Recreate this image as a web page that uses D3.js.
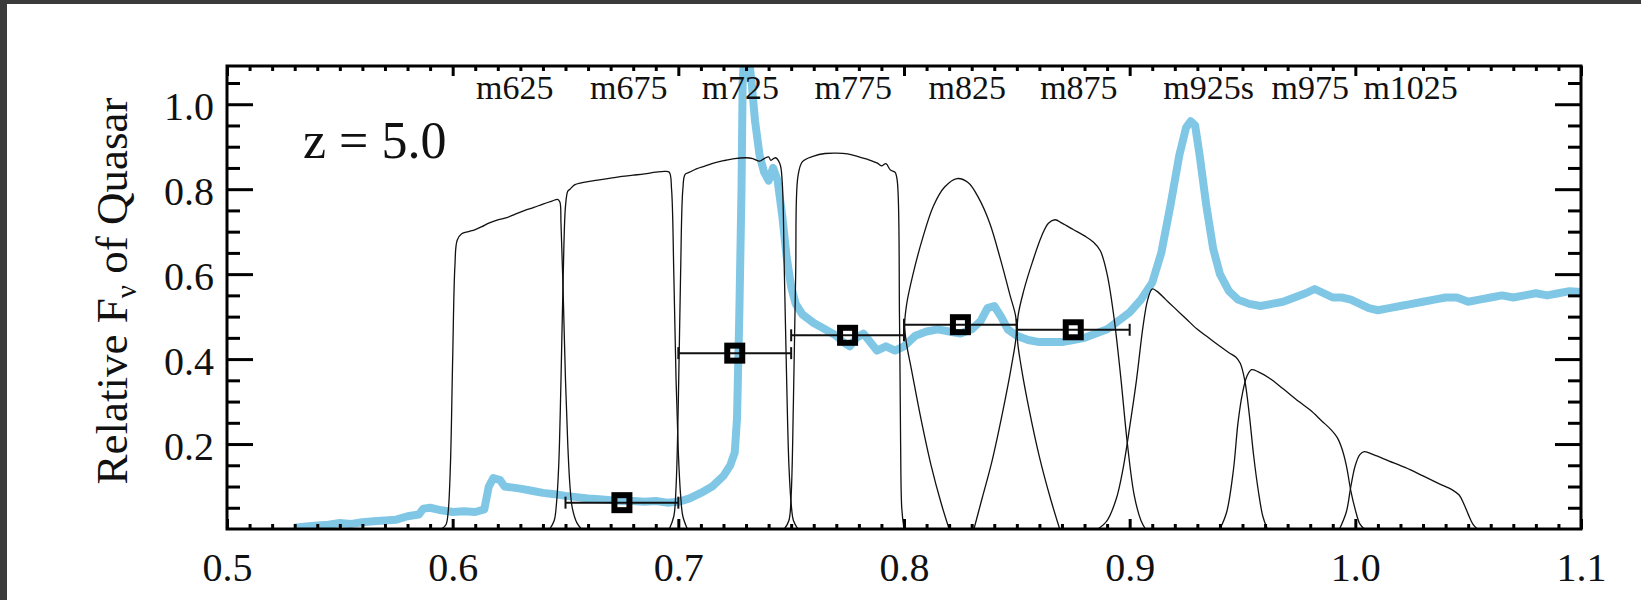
<!DOCTYPE html>
<html>
<head>
<meta charset="utf-8">
<script src="https://cdn.jsdelivr.net/npm/d3@7"></script>
<style>
  html, body { margin: 0; padding: 0; background: #3b3b3b; }
  svg { display: block; }
  text { font-family: "Liberation Serif", "Times New Roman", serif; fill: #111; }
</style>
</head>
<body>
<svg id="chart" width="1641" height="600"></svg>
<script>
// Quasar spectrum (observed wavelength in microns, relative F_nu)
const specWave = [0.530,0.535,0.540,0.545,0.550,0.555,0.560,0.565,0.570,0.575,0.580,0.585,0.587,0.590,0.595,0.600,0.605,0.610,0.614,0.616,0.618,0.621,0.623,0.626,0.630,0.635,0.640,0.645,0.650,0.655,0.660,0.665,0.670,0.675,0.680,0.685,0.690,0.695,0.700,0.705,0.710,0.715,0.720,0.723,0.725,0.726,0.727,0.728,0.7285,0.729,0.731,0.7325,0.734,0.736,0.738,0.740,0.742,0.744,0.746,0.748,0.750,0.752,0.755,0.760,0.765,0.770,0.773,0.776,0.779,0.782,0.785,0.788,0.792,0.796,0.800,0.805,0.810,0.815,0.820,0.825,0.830,0.834,0.837,0.840,0.843,0.846,0.850,0.855,0.860,0.865,0.870,0.875,0.880,0.885,0.890,0.895,0.900,0.905,0.910,0.914,0.918,0.922,0.925,0.927,0.929,0.931,0.934,0.937,0.940,0.944,0.948,0.953,0.958,0.963,0.968,0.973,0.978,0.982,0.986,0.990,0.994,0.998,1.002,1.006,1.010,1.015,1.020,1.025,1.030,1.035,1.040,1.045,1.050,1.055,1.060,1.065,1.070,1.075,1.080,1.085,1.090,1.095,1.100];
const specFlux = [0.003,0.006,0.008,0.010,0.014,0.012,0.016,0.018,0.020,0.022,0.030,0.034,0.048,0.050,0.044,0.040,0.042,0.040,0.046,0.100,0.120,0.115,0.100,0.098,0.095,0.090,0.085,0.082,0.078,0.075,0.072,0.070,0.068,0.066,0.066,0.064,0.066,0.062,0.064,0.072,0.085,0.100,0.125,0.150,0.180,0.260,0.500,0.800,1.050,1.100,1.120,1.050,0.960,0.880,0.840,0.820,0.850,0.820,0.740,0.640,0.570,0.530,0.505,0.485,0.470,0.455,0.440,0.430,0.450,0.460,0.440,0.420,0.430,0.420,0.430,0.455,0.465,0.470,0.465,0.460,0.470,0.490,0.520,0.525,0.500,0.470,0.455,0.445,0.440,0.440,0.440,0.445,0.450,0.460,0.470,0.490,0.510,0.540,0.580,0.650,0.760,0.880,0.945,0.960,0.950,0.880,0.760,0.660,0.600,0.560,0.540,0.530,0.525,0.530,0.535,0.545,0.555,0.565,0.555,0.545,0.545,0.540,0.530,0.520,0.515,0.520,0.525,0.530,0.535,0.540,0.545,0.545,0.535,0.540,0.545,0.550,0.545,0.550,0.555,0.550,0.555,0.560,0.558];

// Filter transmission curves: [wavelength, transmission], listed in drawing order
const m625 = [[0.595,0],[0.597,0.01],[0.598,0.04],[0.599,0.15],[0.600,0.40],[0.601,0.62],[0.602,0.68],[0.604,0.695],[0.607,0.70],[0.610,0.705],[0.613,0.712],[0.616,0.72],[0.620,0.728],[0.624,0.733],[0.628,0.742],[0.632,0.75],[0.636,0.757],[0.640,0.765],[0.644,0.772],[0.6465,0.776],[0.6475,0.77],[0.648,0.72],[0.649,0.55],[0.650,0.35],[0.651,0.2],[0.652,0.1],[0.653,0.05],[0.655,0.015],[0.657,0]];
const m675 = [[0.643,0],[0.645,0.02],[0.646,0.06],[0.647,0.15],[0.648,0.35],[0.649,0.6],[0.650,0.76],[0.651,0.795],[0.652,0.80],[0.654,0.81],[0.657,0.815],[0.660,0.818],[0.665,0.822],[0.670,0.826],[0.675,0.83],[0.680,0.833],[0.685,0.836],[0.690,0.84],[0.694,0.842],[0.696,0.84],[0.697,0.80],[0.698,0.6],[0.699,0.35],[0.700,0.18],[0.701,0.08],[0.702,0.03],[0.704,0]];
const m725 = [[0.696,0],[0.698,0.03],[0.699,0.1],[0.700,0.3],[0.701,0.6],[0.702,0.8],[0.703,0.835],[0.705,0.84],[0.708,0.848],[0.712,0.855],[0.716,0.862],[0.720,0.867],[0.725,0.872],[0.730,0.874],[0.733,0.872],[0.736,0.866],[0.738,0.872],[0.740,0.876],[0.741,0.868],[0.743,0.874],[0.745,0.86],[0.746,0.82],[0.747,0.6],[0.748,0.35],[0.749,0.15],[0.750,0.06],[0.751,0.02],[0.753,0]];
const m775 = [[0.747,0],[0.749,0.02],[0.750,0.08],[0.751,0.3],[0.752,0.6],[0.753,0.83],[0.755,0.865],[0.760,0.878],[0.765,0.884],[0.770,0.885],[0.775,0.883],[0.780,0.876],[0.784,0.87],[0.788,0.862],[0.790,0.855],[0.792,0.86],[0.794,0.845],[0.796,0.84],[0.797,0.82],[0.798,0.5],[0.7985,0.2],[0.799,0.05],[0.800,0]];
const m825 = [[0.8200,0],[0.8165,0.06],[0.8120,0.15],[0.8075,0.26],[0.8035,0.37],[0.8010,0.44],[0.8003,0.48],[0.8012,0.53],[0.8040,0.60],[0.8080,0.68],[0.8130,0.76],[0.8180,0.805],[0.8235,0.825],[0.8285,0.815],[0.8330,0.78],[0.8380,0.72],[0.8430,0.63],[0.8470,0.55],[0.8495,0.50],[0.8498,0.46],[0.8475,0.38],[0.8435,0.27],[0.8390,0.16],[0.8345,0.07],[0.8310,0]];
const m875 = [[0.8690,0],[0.8650,0.07],[0.8600,0.17],[0.8555,0.28],[0.8520,0.38],[0.8502,0.45],[0.8505,0.50],[0.8530,0.56],[0.8570,0.63],[0.8610,0.69],[0.8640,0.72],[0.8670,0.728],[0.8700,0.72],[0.875,0.705],[0.880,0.69],[0.884,0.675],[0.887,0.655],[0.890,0.6],[0.893,0.5],[0.896,0.36],[0.899,0.2],[0.902,0.08],[0.905,0.02],[0.907,0]];
const m925s = [[0.886,0],[0.890,0.02],[0.894,0.07],[0.897,0.14],[0.900,0.24],[0.903,0.35],[0.906,0.48],[0.908,0.54],[0.910,0.565],[0.912,0.56],[0.916,0.54],[0.920,0.52],[0.925,0.495],[0.930,0.47],[0.935,0.45],[0.940,0.43],[0.944,0.415],[0.947,0.405],[0.949,0.39],[0.951,0.35],[0.953,0.27],[0.955,0.17],[0.957,0.09],[0.959,0.03],[0.961,0]];
const m975 = [[0.940,0],[0.943,0.04],[0.946,0.14],[0.948,0.25],[0.950,0.32],[0.952,0.36],[0.954,0.375],[0.957,0.37],[0.962,0.355],[0.968,0.33],[0.975,0.3],[0.980,0.28],[0.985,0.255],[0.989,0.235],[0.992,0.215],[0.994,0.19],[0.996,0.15],[0.998,0.09],[1.000,0.045],[1.002,0.012],[1.004,0]];
const m1025 = [[0.993,0],[0.996,0.04],[0.998,0.1],[1.000,0.15],[1.002,0.175],[1.004,0.182],[1.008,0.175],[1.015,0.16],[1.022,0.145],[1.030,0.125],[1.037,0.107],[1.043,0.092],[1.046,0.08],[1.048,0.06],[1.050,0.035],[1.052,0.012],[1.054,0]];

const filterCurves = [m625, m675, m725, m775, m825, m875, m925s, m975, m1025];
const filterNames = ["m625","m675","m725","m775","m825","m875","m925s","m975","m1025"];
const filterLabelX = [0.6275,0.678,0.7275,0.7775,0.828,0.8775,0.935,0.980,1.0245];

// Band-averaged photometry with filter half-widths
const photWave = [0.675, 0.725, 0.775, 0.825, 0.875];
const photFlux = [0.062, 0.414, 0.456, 0.481, 0.469];
const photHalfWidth = [0.025, 0.025, 0.025, 0.025, 0.025];

const xMajorTicks = [0.5, 0.6, 0.7, 0.8, 0.9, 1.0, 1.1];
const yMajorTicks = [0.2, 0.4, 0.6, 0.8, 1.0];
const redshiftLabel = "z = 5.0";

const svg = d3.select("#chart");
const W = 1641, H = 600;
const plot = { left: 227, right: 1581, top: 66, bottom: 529 };

// page background, with the dark margin left at the top and left edges
svg.append("rect").attr("x", 7).attr("y", 4).attr("width", W - 7).attr("height", H - 4).attr("fill", "#ffffff");

const x = d3.scaleLinear().domain([0.5, 1.1]).range([plot.left, plot.right]);
const y = d3.scaleLinear().domain([0, 1.09]).range([plot.bottom, plot.top]);

svg.append("clipPath").attr("id", "clip")
  .append("rect").attr("x", plot.left).attr("y", plot.top)
  .attr("width", plot.right - plot.left).attr("height", plot.bottom - plot.top);

const g = svg.append("g").attr("clip-path", "url(#clip)");

// spectrum
const specPts = specWave.map((w, i) => [w, specFlux[i]]);
g.append("path")
  .attr("d", d3.line().x(d => x(d[0])).y(d => y(d[1]))(specPts))
  .attr("fill", "none").attr("stroke", "#80c7e6").attr("stroke-width", 8)
  .attr("stroke-linejoin", "round");

// filter curves (points follow the drawn path, so a centripetal spline is used)
const fLine = d3.line().x(d => x(d[0])).y(d => y(d[1])).curve(d3.curveCatmullRom.alpha(0.5));
g.selectAll("path.filter").data(filterCurves).join("path")
  .attr("class", "filter")
  .attr("d", d => fLine(d))
  .attr("fill", "none").attr("stroke", "#111").attr("stroke-width", 1.3);

// error bars
const phot = photWave.map((w, i) => ({ w, f: photFlux[i], hw: photHalfWidth[i] }));
g.selectAll("line.eb").data(phot).join("line")
  .attr("x1", d => x(d.w - d.hw)).attr("x2", d => x(d.w + d.hw))
  .attr("y1", d => y(d.f)).attr("y2", d => y(d.f))
  .attr("stroke", "#111").attr("stroke-width", 2);
phot.forEach(d => {
  [d.w - d.hw, d.w + d.hw].forEach(e => {
    g.append("line").attr("x1", x(e)).attr("x2", x(e))
      .attr("y1", y(d.f) - 6).attr("y2", y(d.f) + 6)
      .attr("stroke", "#111").attr("stroke-width", 2);
  });
});
g.selectAll("rect.mk").data(phot).join("rect")
  .attr("x", d => x(d.w) - 7.5).attr("y", d => y(d.f) - 7.5)
  .attr("width", 15).attr("height", 15)
  .attr("fill", "none").attr("stroke", "#000").attr("stroke-width", 6);

// axes: ticks point inward on all four sides
const xMinor = d3.range(50, 111).map(v => v / 100).filter(v => Math.abs(v * 10 - Math.round(v * 10)) > 1e-6);
const yMinor = d3.range(1, 22).map(v => v * 0.05).filter(v => Math.abs(v * 5 - Math.round(v * 5)) > 1e-6 && v < 1.09);

const axB = d3.axisBottom(x).tickValues(xMajorTicks).tickSizeInner(-10).tickSizeOuter(0).tickFormat(d3.format(".1f")).tickPadding(24);
const axBm = d3.axisBottom(x).tickValues(xMinor).tickSizeInner(-5).tickSizeOuter(0).tickFormat("");
const axT = d3.axisTop(x).tickValues(xMajorTicks).tickSizeInner(-10).tickSizeOuter(0).tickFormat("");
const axTm = d3.axisTop(x).tickValues(xMinor).tickSizeInner(-5).tickSizeOuter(0).tickFormat("");
const axL = d3.axisLeft(y).tickValues(yMajorTicks).tickSizeInner(-26).tickSizeOuter(0).tickFormat(d3.format(".1f")).tickPadding(13);
const axLm = d3.axisLeft(y).tickValues(yMinor).tickSizeInner(-13).tickSizeOuter(0).tickFormat("");
const axR = d3.axisRight(y).tickValues(yMajorTicks).tickSizeInner(-26).tickSizeOuter(0).tickFormat("");
const axRm = d3.axisRight(y).tickValues(yMinor).tickSizeInner(-13).tickSizeOuter(0).tickFormat("");

function drawAxis(ax, tx, ty) {
  const a = svg.append("g").attr("transform", `translate(${tx},${ty})`).call(ax);
  a.select(".domain").remove();
  a.selectAll("line").attr("stroke", "#000").attr("stroke-width", 3);
  a.selectAll("text").attr("font-size", 40).attr("fill", "#222")
    .style("font-family", '"Liberation Serif", serif');
  return a;
}
drawAxis(axB, 0, plot.bottom);
drawAxis(axBm, 0, plot.bottom);
drawAxis(axT, 0, plot.top);
drawAxis(axTm, 0, plot.top);
const la = drawAxis(axL, plot.left, 0);
la.selectAll("text").attr("dy", "0.38em");
drawAxis(axLm, plot.left, 0);
drawAxis(axR, plot.right, 0);
drawAxis(axRm, plot.right, 0);

// frame
svg.append("rect").attr("x", plot.left).attr("y", plot.top)
  .attr("width", plot.right - plot.left).attr("height", plot.bottom - plot.top)
  .attr("fill", "none").attr("stroke", "#000").attr("stroke-width", 3);

// filter labels
svg.selectAll("text.fname").data(filterNames).join("text")
  .attr("class", "fname")
  .attr("x", (d, i) => x(filterLabelX[i])).attr("y", 99)
  .attr("text-anchor", "middle").attr("font-size", 34).attr("fill", "#111")
  .text(d => d);

// redshift label
svg.append("text").attr("x", 303).attr("y", 158).attr("font-size", 52).attr("fill", "#222").text(redshiftLabel);

// y axis title
const yt = svg.append("text")
  .attr("transform", `translate(${127},${291}) rotate(-90)`)
  .attr("text-anchor", "middle").attr("font-size", 45).attr("fill", "#222");
yt.append("tspan").text("Relative F");
yt.append("tspan").attr("font-size", 29).attr("dy", 9).text("ν");
yt.append("tspan").attr("dy", -9).text(" of Quasar");
</script>
</body>
</html>
